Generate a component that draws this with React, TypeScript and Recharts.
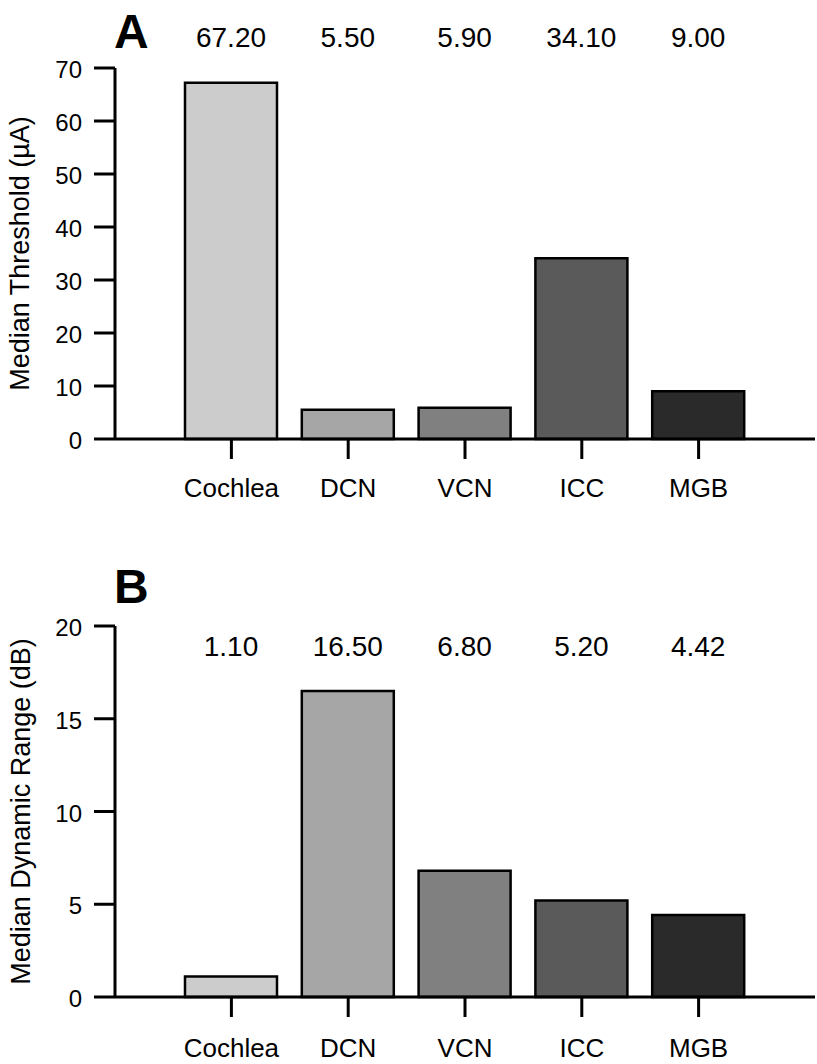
import React from 'react'
import { BarChart, Bar, XAxis, YAxis, Cell, LabelList } from 'recharts'

const regions = ['Cochlea', 'DCN', 'VCN', 'ICC', 'MGB']
const thresholdValues = [67.2, 5.5, 5.9, 34.1, 9.0]
const dynamicRangeValues = [1.1, 16.5, 6.8, 5.2, 4.42]
const thresholdTicks = [0, 10, 20, 30, 40, 50, 60, 70]
const dynamicRangeTicks = [0, 5, 10, 15, 20]
const barColors = ['#cccccc', '#a6a6a6', '#808080', '#5a5a5a', '#2a2a2a']

const FONT = '"Liberation Sans", Arial, Helvetica, sans-serif'

function Panel({
  letter, values, ticks, yLabel, top, plotTop, xAxisH, valueY, xLabelDy, letterTop, yLabelX,
}: {
  letter: string; values: number[]; ticks: number[]; yLabel: string; top: number
  plotTop: number; xAxisH: number; valueY: number; xLabelDy: number; letterTop: number; yLabelX: number
}) {
  const data = regions.map((name, i) => ({ name, value: values[i] }))
  const max = ticks[ticks.length - 1]
  return (
    <div style={{ position: 'absolute', left: 0, top, width: 817, height: 532 }}>
      <div style={{
        position: 'absolute', left: 114, top: letterTop, fontSize: 48, fontWeight: 700,
        fontFamily: FONT, lineHeight: '48px', color: '#000',
      }}>{letter}</div>
      <BarChart width={817} height={532} data={data}
        margin={{ top: plotTop, right: 2, bottom: 0, left: 0 }}>
        <XAxis dataKey="name" height={xAxisH}
          padding={{ left: 58, right: 58 }}
          axisLine={{ stroke: '#000', strokeWidth: 3 }}
          tickLine={{ stroke: '#000', strokeWidth: 3 }}
          tickSize={20} tickMargin={0}
          tick={(p: any) => (
            <text x={p.x} y={p.y} dy={xLabelDy} textAnchor="middle"
              fontSize={26} fontFamily={FONT} fill="#000">{p.payload.value}</text>
          )} />
        <YAxis width={115} domain={[0, max]} ticks={ticks} interval={0}
          axisLine={{ stroke: '#000', strokeWidth: 3 }}
          tickLine={{ stroke: '#000', strokeWidth: 3 }}
          tickSize={21} tickMargin={12}
          tick={(p: any) => (
            <text x={p.x} y={p.y} dy={10} textAnchor="end"
              fontSize={24} fontFamily={FONT} fill="#000">{p.payload.value}</text>
          )}
          label={{
            position: 'insideLeft',
            content: (p: any) => {
              const vb = p.viewBox
              const cy = vb.y + vb.height / 2
              return (
                <text x={yLabelX} y={cy} transform={`rotate(-90, ${yLabelX}, ${cy})`}
                  textAnchor="middle" fontSize={27} fontFamily={FONT} fill="#000">{yLabel}</text>
              )
            },
          }} />
        <Bar dataKey="value" barSize={92} stroke="#000" strokeWidth={2.5} isAnimationActive={false}>
          {data.map((_, i) => (
            <Cell key={i} fill={barColors[i % barColors.length]} />
          ))}
          <LabelList dataKey="value" content={(p: any) => (
            <text x={Number(p.x) + Number(p.width) / 2} y={valueY} textAnchor="middle"
              dominantBaseline="central" fontSize={28} fontFamily={FONT} fill="#000">
              {Number(p.value).toFixed(2)}
            </text>
          )} />
        </Bar>
      </BarChart>
    </div>
  )
}

export default function App() {
  return (
    <div style={{ position: 'absolute', left: 0, top: 0, width: 817, height: 1064, background: '#fff' }}>
      <Panel letter="A" values={thresholdValues} ticks={thresholdTicks}
        yLabel="Median Threshold (µA)" top={0} plotTop={68} xAxisH={93}
        valueY={37} xLabelDy={38} letterTop={8} yLabelX={29} />
      <Panel letter="B" values={dynamicRangeValues} ticks={dynamicRangeTicks}
        yLabel="Median Dynamic Range (dB)" top={532} plotTop={94} xAxisH={67}
        valueY={114} xLabelDy={40} letterTop={31} yLabelX={30} />
    </div>
  )
}
